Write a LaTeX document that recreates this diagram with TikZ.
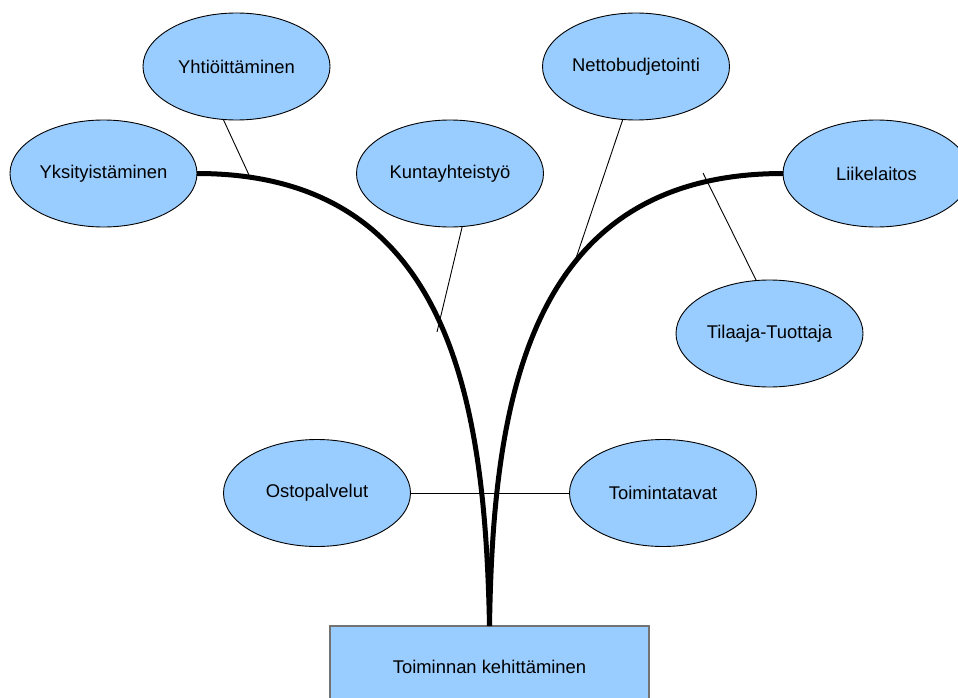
\documentclass[tikz,border=0pt]{standalone}
\usepackage{fontspec}
\setmainfont{Liberation Sans}
\usetikzlibrary{shapes.geometric}
\definecolor{boxblue}{HTML}{99CCFF}
\tikzset{
  bubble/.style={ellipse, draw=black, line width=0.9pt, fill=boxblue, inner sep=0pt, outer sep=0pt,
    minimum width=187pt, minimum height=107pt, font=\fontsize{18.4}{22}\selectfont},
  rootbox/.style={rectangle, draw=black!55, line width=1.4pt, fill=boxblue, inner sep=0pt, outer sep=0pt,
    minimum width=319pt, minimum height=82pt, font=\fontsize{18.4}{22}\selectfont},
  branch/.style={line width=5pt, draw=black},
  twig/.style={line width=0.9pt, draw=black}
}
\begin{document}
\begin{tikzpicture}[x=1pt,y=-1pt]
\useasboundingbox (0,0) rectangle (958,698);
% nodes
\node[bubble] (yht) at (236.5,66.5) {Yhtiöittäminen};
\node[bubble] (yks) at (103.5,173.5) {Yksityistäminen};
\node[bubble] (kun) at (450,173.5) {Kuntayhteistyö};
\node[bubble] (net) at (636,66.5) {Nettobudjetointi};
\node[bubble] (lii) at (876.5,173.5) {Liikelaitos};
\node[bubble] (til) at (769.5,333.5) {Tilaaja-Tuottaja};
\node[bubble] (ost) at (317,493) {Ostopalvelut};
\node[bubble] (toi) at (663,493) {Toimintatavat};
% points on the branches
\coordinate (pyht) at (249,175);
\coordinate (pkun) at (437,332);
\coordinate (pnet) at (573,267);
\coordinate (ptil) at (703,173);
% thin connectors
\draw[twig] (yht.256.8) -- (pyht);
\draw[twig] (kun.283.7) -- (pkun);
\draw[twig] (net.256.3) -- (pnet);
\draw[twig] (til.104.2) -- (ptil);
\draw[twig] (ost.east) -- (toi.west);
% root box
\node[rootbox] (root) at (489.5,667) {Toiminnan kehittäminen};
% thick branches
\draw[branch] (root.north) .. controls (485,400) and (450,173.5) .. (yks.east);
\draw[branch] (root.north) .. controls (493,400) and (528,173.5) .. (lii.west);
\end{tikzpicture}
\end{document}
